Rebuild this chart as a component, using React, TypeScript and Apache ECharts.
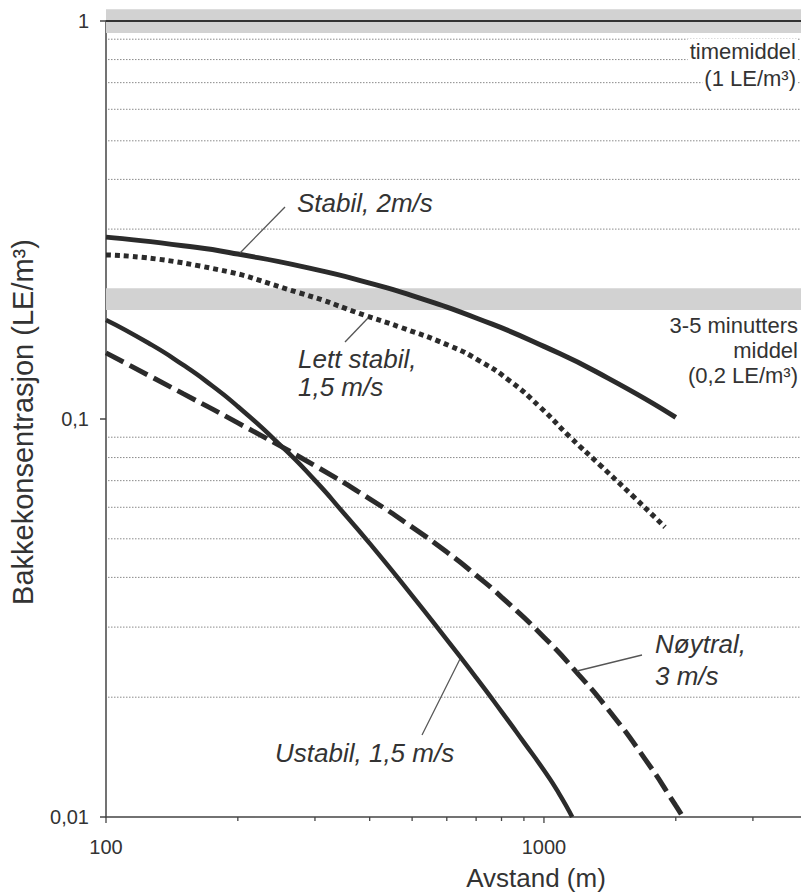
import React, { useEffect, useRef } from "react";
import * as echarts from "echarts";

// ---- Axis ranges ----
const X_MIN = 100;
const X_MAX = 3863;
const Y_MIN = 0.01;
const Y_MAX = 1;

// ---- Curves (distance m, concentration LE/m3) ----
const stabilX = [100, 150, 200, 300, 400, 500, 700, 1000, 1400, 2000];
const stabilY = [0.2864, 0.2725, 0.2597, 0.2377, 0.2195, 0.2041, 0.1794, 0.1522, 0.1267, 0.1009];

const lettStabilX = [100, 164, 277, 394, 469, 610, 714, 836, 979, 1147, 1343, 1597, 1889];
const lettStabilY = [0.2583, 0.2423, 0.2073, 0.1815, 0.1702, 0.1526, 0.1398, 0.1246, 0.1072, 0.0901, 0.0766, 0.064, 0.0535];

const noytralX = [100, 150, 200, 300, 400, 500, 600, 700, 800, 1000, 1200, 1400, 1700, 2000, 2075];
const noytralY = [0.1466, 0.1158, 0.0978, 0.0763, 0.063, 0.0535, 0.0463, 0.0405, 0.0357, 0.0283, 0.0228, 0.01865, 0.014, 0.01068, 0.01];

const ustabilX = [100, 125, 150, 175, 200, 250, 300, 350, 400, 500, 600, 700, 800, 900, 1000, 1080, 1160];
const ustabilY = [0.1774, 0.1552, 0.1367, 0.121, 0.1075, 0.086, 0.0701, 0.0578, 0.0487, 0.036, 0.0279, 0.0224, 0.0184, 0.0154, 0.0131, 0.0115, 0.01];

// ---- Reference levels / grid ----
const gridValues = [0.9, 0.8, 0.7, 0.6, 0.5, 0.4, 0.3, 0.09, 0.08, 0.07, 0.06, 0.05, 0.04, 0.03, 0.02];
const timeBand = [0.933, 1.07];
const minuteBand = [0.188, 0.213];
const refLine = [1];

// ---- Ticks ----
const xTickValues = [100, 200, 300, 400, 500, 600, 700, 800, 900, 1000, 2000, 3000];
const xMajorTicks = [100, 1000];
const yTickValues = [1, 0.1, 0.01];

const FONT = '"Liberation Sans", Arial, Helvetica, sans-serif';
const INK = "#2b2b2b";
const TEXT = "#333";

const pairs = (xs: number[], ys: number[]) => xs.map((x, i) => [x, ys[i]]);

export default function App() {
  const ref = useRef<HTMLDivElement>(null);

  useEffect(() => {
    if (!ref.current) return;
    const chart = echarts.init(ref.current, null, { renderer: "svg" });

    const powLabel = (v: number, map: Record<number, string>) => {
      const e = Math.round(Math.log10(v));
      if (Math.abs(Math.log10(v) - e) > 0.01) return "";
      return map[e] ?? "";
    };

    const curve = (name: string, xs: number[], ys: number[], width: number, type: any) => ({
      name,
      type: "line",
      data: pairs(xs, ys),
      smooth: 0.6,
      symbol: "none",
      clip: false,
      z: 5,
      lineStyle: { color: INK, width, type, cap: "butt" },
    });

    const option: any = {
      animation: false,
      backgroundColor: "#fff",
      grid: { left: 106, top: 21, right: 0, bottom: 75, containLabel: false },
      xAxis: {
        type: "log",
        logBase: 10,
        min: X_MIN,
        max: X_MAX,
        axisLine: { show: true, lineStyle: { color: "#444", width: 1.5 } },
        axisTick: { show: false },
        splitLine: { show: false },
        minorTick: { show: false },
        axisLabel: {
          show: true,
          margin: 20,
          fontSize: 20,
          fontFamily: FONT,
          color: TEXT,
          showMaxLabel: false,
          formatter: (v: number) => powLabel(v, { 2: "100", 3: "1000" }),
        },
      },
      yAxis: {
        type: "log",
        logBase: 10,
        min: Y_MIN,
        max: Y_MAX,
        axisLine: { show: true, lineStyle: { color: "#444", width: 1.5 } },
        axisTick: { show: false },
        splitLine: { show: false },
        axisLabel: {
          show: true,
          margin: 17,
          fontSize: 20,
          fontFamily: FONT,
          color: TEXT,
          formatter: (v: number) => powLabel(v, { 0: "1", [-1]: "0,1", [-2]: "0,01" }),
        },
      },
      series: [
        {
          name: "bands",
          type: "custom",
          z: 1,
          silent: true,
          data: [timeBand, minuteBand].map((b) => [X_MIN, b[0], b[1]]),
          encode: { x: 0, y: 1 },
          renderItem: (params: any, api: any) => {
            const p0 = api.coord([X_MIN, api.value(2)]);
            const p1 = api.coord([X_MAX, api.value(1)]);
            return {
              type: "rect",
              shape: { x: p0[0], y: p0[1], width: p1[0] - p0[0], height: p1[1] - p0[1] },
              style: { fill: "#d2d2d2" },
            };
          },
        },
        {
          name: "grid",
          type: "custom",
          z: 2,
          silent: true,
          data: gridValues.map((v) => [X_MIN, v]),
          renderItem: (params: any, api: any) => {
            const p0 = api.coord([X_MIN, api.value(1)]);
            const p1 = api.coord([X_MAX, api.value(1)]);
            return {
              type: "line",
              shape: { x1: p0[0] + 2, y1: p0[1], x2: p1[0], y2: p1[1] },
              style: { stroke: "#8a8a8a", lineWidth: 1, lineDash: [1.5, 1.5] },
            };
          },
        },
        {
          name: "ref",
          type: "custom",
          z: 3,
          silent: true,
          data: refLine.map((v) => [X_MIN, v]),
          renderItem: (params: any, api: any) => {
            const p0 = api.coord([X_MIN, api.value(1)]);
            const p1 = api.coord([X_MAX, api.value(1)]);
            return {
              type: "line",
              shape: { x1: p0[0], y1: p0[1], x2: p1[0], y2: p1[1] },
              style: { stroke: "#333", lineWidth: 2 },
            };
          },
        },
        {
          name: "xticks",
          type: "custom",
          z: 4,
          silent: true,
          data: xTickValues.map((v) => [v, Y_MIN]),
          renderItem: (params: any, api: any) => {
            const v = api.value(0);
            const p = api.coord([v, Y_MIN]);
            const len = xMajorTicks.indexOf(v) >= 0 ? 6 : 4;
            return {
              type: "line",
              shape: { x1: p[0], y1: p[1], x2: p[0], y2: p[1] + len },
              style: { stroke: "#444", lineWidth: 1.3 },
            };
          },
        },
        {
          name: "yticks",
          type: "custom",
          z: 4,
          silent: true,
          data: yTickValues.map((v) => [X_MIN, v]),
          renderItem: (params: any, api: any) => {
            const p = api.coord([X_MIN, api.value(1)]);
            return {
              type: "line",
              shape: { x1: p[0] - 6, y1: p[1], x2: p[0], y2: p[1] },
              style: { stroke: "#444", lineWidth: 1.5 },
            };
          },
        },
        curve("Stabil, 2m/s", stabilX, stabilY, 5, "solid"),
        curve("Lett stabil, 1,5 m/s", lettStabilX, lettStabilY, 5, [5, 4]),
        curve("Nøytral, 3 m/s", noytralX, noytralY, 5, [20, 7]),
        curve("Ustabil, 1,5 m/s", ustabilX, ustabilY, 4.5, "solid"),
      ],
      graphic: [
        // leader lines
        { type: "line", z: 50, shape: { x1: 240, y1: 253, x2: 285, y2: 207 }, style: { stroke: "#555", lineWidth: 1.3 } },
        { type: "line", z: 50, shape: { x1: 368, y1: 318, x2: 345, y2: 342 }, style: { stroke: "#555", lineWidth: 1.3 } },
        { type: "line", z: 50, shape: { x1: 577, y1: 671, x2: 642, y2: 655 }, style: { stroke: "#555", lineWidth: 1.3 } },
        { type: "line", z: 50, shape: { x1: 460, y1: 659, x2: 422, y2: 735 }, style: { stroke: "#555", lineWidth: 1.3 } },
        // curve labels
        { type: "text", z: 60, style: { text: "Stabil, 2m/s", x: 297, y: 203, verticalAlign: "middle", fill: TEXT, font: `italic 26px ${FONT}` } },
        { type: "text", z: 60, style: { text: "Lett stabil,", x: 298, y: 359, verticalAlign: "middle", fill: TEXT, font: `italic 26px ${FONT}` } },
        { type: "text", z: 60, style: { text: "1,5 m/s", x: 298, y: 387, verticalAlign: "middle", fill: TEXT, font: `italic 26px ${FONT}` } },
        { type: "text", z: 60, style: { text: "Nøytral,", x: 655, y: 644, verticalAlign: "middle", fill: TEXT, font: `italic 26px ${FONT}` } },
        { type: "text", z: 60, style: { text: "3 m/s", x: 655, y: 676, verticalAlign: "middle", fill: TEXT, font: `italic 26px ${FONT}` } },
        { type: "text", z: 60, style: { text: "Ustabil, 1,5 m/s", x: 275, y: 753, verticalAlign: "middle", fill: TEXT, font: `italic 26px ${FONT}` } },
        // band labels
        { type: "text", z: 60, style: { text: "timemiddel", x: 798, y: 51, align: "right", verticalAlign: "middle", fill: TEXT, font: `22px ${FONT}`, backgroundColor: "#fff", padding: [1, 2] } },
        { type: "text", z: 60, style: { text: "(1 LE/m³)", x: 798, y: 78, align: "right", verticalAlign: "middle", fill: TEXT, font: `22px ${FONT}`, backgroundColor: "#fff", padding: [1, 2] } },
        { type: "text", z: 60, style: { text: "3-5 minutters", x: 798, y: 325, align: "right", verticalAlign: "middle", fill: TEXT, font: `22px ${FONT}` } },
        { type: "text", z: 60, style: { text: "middel", x: 798, y: 350, align: "right", verticalAlign: "middle", fill: TEXT, font: `22px ${FONT}` } },
        { type: "text", z: 60, style: { text: "(0,2 LE/m³)", x: 798, y: 375, align: "right", verticalAlign: "middle", fill: TEXT, font: `22px ${FONT}` } },
        // axis titles
        { type: "text", z: 60, style: { text: "Avstand (m)", x: 536, y: 878, align: "center", verticalAlign: "middle", fill: TEXT, font: `26px ${FONT}` } },
        { type: "text", z: 60, x: 23, y: 422, rotation: Math.PI / 2, style: { text: "Bakkekonsentrasjon (LE/m³)", x: 0, y: 0, align: "center", verticalAlign: "middle", fill: TEXT, font: `29px ${FONT}` } },
      ],
    };

    chart.setOption(option);
    return () => chart.dispose();
  }, []);

  return <div ref={ref} style={{ position: "fixed", left: 0, top: 0, width: 801, height: 892, background: "#fff" }} />;
}
